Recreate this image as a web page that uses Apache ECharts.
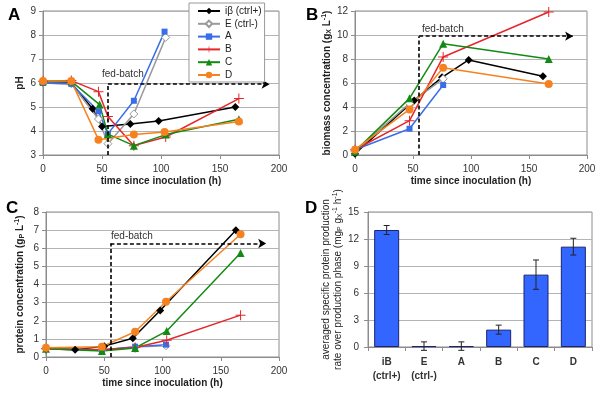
<!DOCTYPE html>
<html><head><meta charset="utf-8">
<script src="https://cdn.jsdelivr.net/npm/echarts@6/dist/echarts.min.js"></script>
<style>html,body{margin:0;padding:0;background:#fff}#c{width:600px;height:401px}</style>
</head><body><div id="c"></div><script>
// ---------- DATA ----------
const seriesNames = ['iβ (ctrl+)', 'E (ctrl-)', 'A', 'B', 'C', 'D'];
const xTicks = [0, 50, 100, 150, 200];

// Panel A: pH  [time (h), pH]
const pH_ib = [[0,6.0],[24,6.0],[42,4.93],[50,4.19],[74,4.29],[98,4.42],[163,5.0]];
const pH_E  = [[0,6.0],[24,5.97],[47,4.5],[55,3.47],[77,4.71],[104,7.9]];
const pH_A  = [[0,6.0],[24,5.96],[47,4.82],[55,3.88],[77,5.26],[103,8.14]];
const pH_B  = [[0,6.07],[24,6.1],[47,5.64],[55,4.6],[77,3.39],[104,3.75],[166,5.35]];
const pH_C  = [[0,6.07],[24,6.07],[48,5.1],[55,3.87],[77,3.39],[104,3.85],[166,4.49]];
const pH_D  = [[0,6.08],[24,6.08],[47,3.64],[77,3.85],[103,3.96],[166,4.4]];

// Panel B: biomass (gX/L)
const bm_ib = [[0,0.11],[51,4.55],[75,6.47],[98,7.92],[162,6.56]];
const bm_E  = [[0,0.3],[47,4.3],[76,6.35]];
const bm_A  = [[0,0.44],[47,2.19],[76,5.83]];
const bm_B  = [[0,0.44],[47,2.86],[76,8.17],[167,11.92]];
const bm_C  = [[0,0.3],[47,4.72],[76,9.28],[167,8.0]];
const bm_D  = [[0,0.44],[47,3.8],[76,7.28],[167,5.92]];

// Panel C: protein (gP/L)
const pr_ib = [[0,0.46],[25,0.4],[50,0.6],[74.5,1.03],[98,2.57],[163,6.99]];
const pr_E  = [[0,0.46],[48,0.4],[76.5,0.55],[103,0.62]];
const pr_A  = [[0,0.46],[48,0.38],[76.5,0.57],[103,0.68]];
const pr_B  = [[0,0.46],[48,0.4],[76.5,0.53],[103.6,0.92],[167,2.31]];
const pr_C  = [[0,0.46],[48,0.33],[76.5,0.5],[103.6,1.43],[167,5.74]];
const pr_D  = [[0,0.51],[48,0.57],[76.5,1.39],[103,3.05],[167,6.77]];

// fed-batch arrows: [start time, y bottom, y level, end time]
const fedA = [55, 3, 5.95, 192];
const fedB = [55.3, 0, 9.9, 188];
const fedC = [55.3, 0, 6.26, 189];

// Panel D: bars
const barCats = ['iB\n(ctrl+)', 'E\n(ctrl-)', 'A', 'B', 'C', 'D'];
const barVals = [13.0, 0.1, 0.1, 1.93, 8.04, 11.15];
const barErr  = [0.5, 0.47, 0.47, 0.5, 1.63, 0.93];

// ---------- STYLE ----------
const FONT = '"Liberation Sans", Arial, sans-serif';
const plusPath = 'path://M4.5,0h1v4.5h4.5v1h-4.5v4.5h-1v-4.5h-4.5v-1h4.5z';
const styles = [
  {color:'#000000', symbol:'diamond', size:8, fill:'#000000'},
  {color:'#9a9a9a', symbol:'diamond', size:8, fill:'#ffffff', hollow:true},
  {color:'#3a6ee8', symbol:'rect', size:6, fill:'#3a6ee8'},
  {color:'#e6262b', symbol:plusPath, size:10, fill:'#e6262b'},
  {color:'#138a13', symbol:'triangle', size:8, fill:'#138a13'},
  {color:'#f5821f', symbol:'circle', size:8, fill:'#f5821f'}
];

function lineSeries(g, data, k) {
  const s = styles[k];
  return {
    type:'line', name: seriesNames[k], xAxisIndex:g, yAxisIndex:g, data:data,
    symbol:s.symbol, symbolSize:s.size, showAllSymbol:true, animation:false,
    lineStyle:{color:s.color, width:1.5},
    itemStyle:{color:s.fill, borderColor:s.color, borderWidth:s.hollow?1:0},
    emphasis:{disabled:true}
  };
}
function fedSeries(g, f) {
  return {
    type:'line', name:'fed', xAxisIndex:g, yAxisIndex:g, data:[], silent:true, animation:false,
    markLine:{
      silent:true, animation:false, symbol:['none','none'],
      label:{show:false},
      lineStyle:{color:'#000', width:1.6, type:[4,2.5]},
      emphasis:{disabled:true},
      data:[
        [{coord:[f[0], f[1]]}, {coord:[f[0], f[2]]}],
        [{coord:[f[0], f[2]]}, {coord:[f[3], f[2]], symbol:'arrow', symbolSize:[7,8]}]
      ]
    }
  };
}

const grids = [
  {left:43, top:11, width:236, height:144},
  {left:355, top:11, width:232, height:144},
  {left:46, top:212, width:233, height:145},
  {left:368, top:212, width:224, height:135}
].map(g => Object.assign({show:true, borderColor:'#8c8c8c', borderWidth:1, backgroundColor:'transparent'}, g));

const axisLineS = {show:true, lineStyle:{color:'#8c8c8c', width:1}};
const tickS = {show:true, length:4, inside:false, lineStyle:{color:'#8c8c8c'}};
const splitS = {show:true, lineStyle:{color:'#b4b4b4', width:1}};
const labelS = {fontSize:10, color:'#333', fontFamily:FONT};
const richSS = {
  sub:{fontSize:7, fontWeight:'bold', verticalAlign:'bottom', fontFamily:FONT, color:'#222'},
  sup:{fontSize:7, fontWeight:'bold', verticalAlign:'top', fontFamily:FONT, color:'#222'}
};
const richN = {
  sub:{fontSize:7, verticalAlign:'bottom', fontFamily:FONT, color:'#222'},
  sup:{fontSize:7, verticalAlign:'top', fontFamily:FONT, color:'#222'}
};

function timeAxis(g) {
  return {
    type:'value', gridIndex:g, min:xTicks[0], max:xTicks[xTicks.length-1], interval:xTicks[1]-xTicks[0],
    axisLine:axisLineS, axisTick:tickS, splitLine:{show:false},
    axisLabel:Object.assign({margin:9}, labelS),
    name:'time since inoculation (h)', nameLocation:'middle', nameGap:21,
    nameTextStyle:{fontWeight:'bold', fontSize:10, color:'#222', fontFamily:FONT}
  };
}
function valAxis(g, min, max, interval, name, gap, rich) {
  return {
    type:'value', gridIndex:g, min:min, max:max, interval:interval,
    axisLine:axisLineS, axisTick:tickS, splitLine:splitS,
    axisLabel:Object.assign({margin:7}, labelS),
    name:name, nameLocation:'middle', nameGap:gap, nameRotate:90,
    nameTextStyle:{fontWeight:'bold', fontSize:10, color:'#222', fontFamily:FONT, lineHeight:12, rich:rich}
  };
}

const xAxes = [timeAxis(0), timeAxis(1), timeAxis(2), {
  type:'category', gridIndex:3, data:barCats,
  axisLine:axisLineS, axisTick:{show:true, length:4, lineStyle:{color:'#8c8c8c'}}, splitLine:{show:false},
  axisLabel:Object.assign({margin:8, fontWeight:'bold', lineHeight:14, interval:0}, labelS)
}];
const yAxes = [
  valAxis(0, 3, 9, 1, 'pH', 15, richSS),
  valAxis(1, 0, 12, 2, 'biomass concentration (g{sub|X} L{sup|-1})', 21, richSS),
  valAxis(2, 0, 8, 1, 'protein concentration (g{sub|P} L{sup|-1})', 20, richSS),
  (function(){
    const a = valAxis(3, 0, 15, 3,
      'averaged specific protein production\nrate over production phase (mg{sub|P} g{sub|X}{sup|-1} h{sup|-1})', 20, richN);
    a.axisLabel.margin = 9;
    a.nameTextStyle.fontWeight = 'normal';
    return a;
  })()
];

const panelData = [
  [pH_ib, pH_E, pH_A, pH_B, pH_C, pH_D],
  [bm_ib, bm_E, bm_A, bm_B, bm_C, bm_D],
  [pr_ib, pr_E, pr_A, pr_B, pr_C, pr_D]
];
const series = [];
[fedA, fedB, fedC].forEach((f, g) => series.push(fedSeries(g, f)));
panelData.forEach((arrs, g) => arrs.forEach((d, k) => series.push(lineSeries(g, d, k))));

series.push({
  type:'bar', name:'rate', xAxisIndex:3, yAxisIndex:3, data:barVals, barWidth:25, animation:false,
  itemStyle:{color:'#3366ff', borderColor:'#1b2470', borderWidth:1}, emphasis:{disabled:true}
});
series.push({
  type:'custom', name:'err', xAxisIndex:3, yAxisIndex:3, animation:false, z:5,
  data: barVals.map((v, i) => [i, v - barErr[i], v + barErr[i]]),
  encode:{x:0, y:[1,2]},
  renderItem: function(params, api) {
    const x = api.value(0);
    const lo = api.coord([x, api.value(1)]);
    const hi = api.coord([x, api.value(2)]);
    const w = 3;
    const st = {stroke:'#222', lineWidth:1};
    return {type:'group', children:[
      {type:'line', shape:{x1:lo[0], y1:lo[1], x2:hi[0], y2:hi[1]}, style:st},
      {type:'line', shape:{x1:lo[0]-w, y1:lo[1], x2:lo[0]+w, y2:lo[1]}, style:st},
      {type:'line', shape:{x1:hi[0]-w, y1:hi[1], x2:hi[0]+w, y2:hi[1]}, style:st}
    ]};
  }
});

const titleText = (t, x, y) => ({type:'text', left:x, top:y, style:{text:t, font:'bold 17px ' + FONT, fill:'#000'}});
const fedText = (x, y) => ({type:'text', left:x, top:y, style:{text:'fed-batch', font:'10px ' + FONT, fill:'#333'}});

const chart = echarts.init(document.getElementById('c'), null, {renderer:'canvas'});
chart.setOption({
  animation:false,
  backgroundColor:'#fff',
  grid:grids,
  xAxis:xAxes,
  yAxis:yAxes,
  legend:{
    orient:'vertical', left:189, top:3, data:seriesNames,
    padding:[3,3,2,8], itemWidth:22, itemHeight:8, itemGap:2.8,
    backgroundColor:'#fff', borderColor:'#999', borderWidth:1, z:10,
    textStyle:{fontSize:10, color:'#222', fontFamily:FONT}, selectedMode:false
  },
  graphic:[
    titleText('A', 8, 7), titleText('B', 306, 7), titleText('C', 6, 200), titleText('D', 305, 200),
    fedText(102, 69), fedText(422, 24), fedText(111, 231)
  ],
  series:series
});
</script></body></html>
